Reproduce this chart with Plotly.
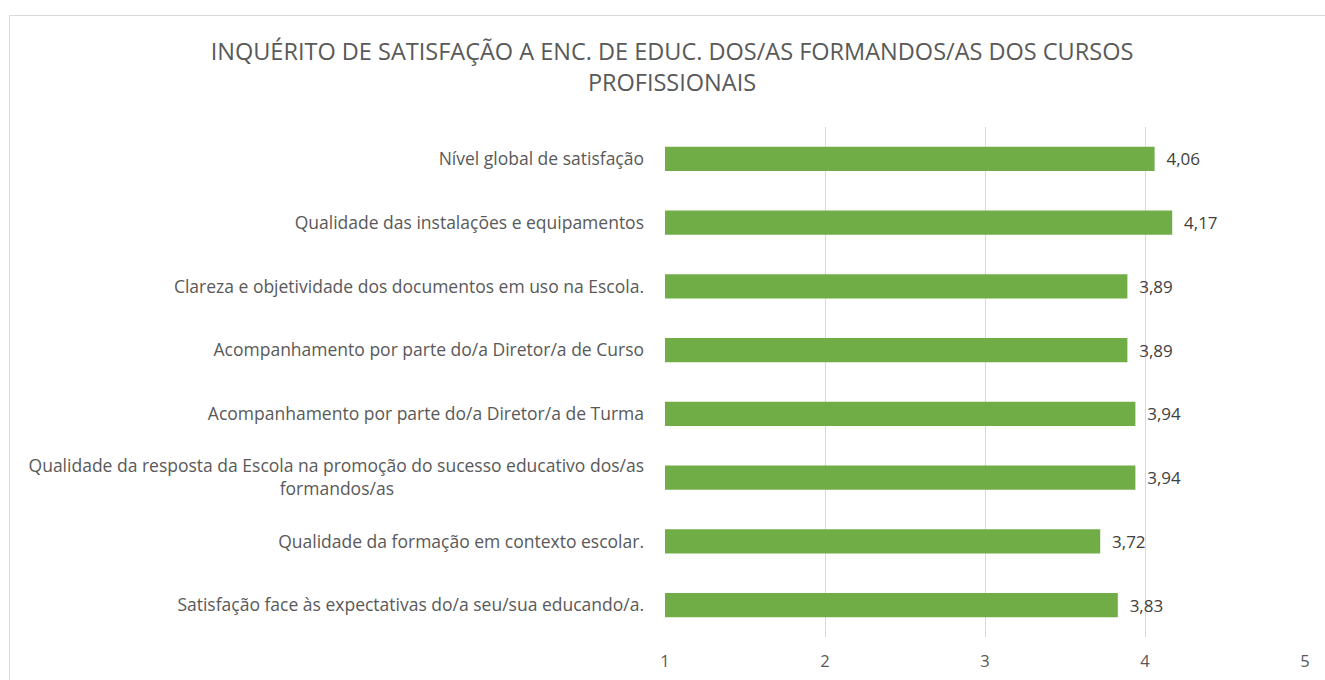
import plotly.graph_objects as go

categories = [
    "Nível global de satisfação",
    "Qualidade das instalações e equipamentos",
    "Clareza e objetividade dos documentos em uso na Escola.",
    "Acompanhamento por parte do/a Diretor/a de Curso",
    "Acompanhamento por parte do/a Diretor/a de Turma",
    "Qualidade da resposta da Escola na promoção do sucesso educativo dos/as<br>formandos/as" + "\u00a0" * 55,
    "Qualidade da formação em contexto escolar.",
    "Satisfação face às expectativas do/a seu/sua educando/a.",
]
values = [4.06, 4.17, 3.89, 3.89, 3.94, 3.94, 3.72, 3.83]
tick_vals = [1, 2, 3, 4, 5]

# body margin is removed in the page, so page px == figure px
W, H = 1325, 680
L, T = 665, 127
R = W - 1305
B = H - 637
pw, ph = W - L - R, H - T - B


def px_x(p):
    return (p - L) / pw


def px_y(p):
    return (H - B - p) / ph


border = dict(color="#D9D9D9", width=1)

fig = go.Figure(
    go.Bar(
        x=values,
        y=categories,
        orientation="h",
        marker=dict(color="#70AD47", line=dict(width=0)),
        text=values,
        texttemplate="\u00a0\u00a0%{x:.2f}",
        textposition="outside",
        textfont=dict(family="Open Sans", size=17, color="#404040"),
        cliponaxis=False,
        hoverinfo="skip",
    )
)

fig.update_layout(
    width=W,
    height=H,
    margin=dict(l=L, r=R, t=T, b=B, autoexpand=False),
    paper_bgcolor="white",
    plot_bgcolor="white",
    separators=",.",
    bargap=0.62,
    showlegend=False,
    font=dict(family="Open Sans", color="#595959"),
    title=dict(
        text="INQUÉRITO DE SATISFAÇÃO A ENC. DE EDUC. DOS/AS FORMANDOS/AS DOS CURSOS<br>PROFISSIONAIS",
        x=672 / W,
        xanchor="center",
        xref="container",
        y=1 - 60 / H,
        yanchor="middle",
        font=dict(family="Open Sans", size=23.5, color="#595959"),
    ),
    shapes=[
        dict(type="line", xref="paper", yref="paper",
             x0=px_x(9.5), x1=px_x(1340), y0=px_y(15.5), y1=px_y(15.5),
             line=border, layer="below"),
        dict(type="line", xref="paper", yref="paper",
             x0=px_x(9.5), x1=px_x(9.5), y0=px_y(15.5), y1=px_y(700),
             line=border, layer="below"),
    ],
)

fig.update_xaxes(
    range=[1, 5],
    tickvals=tick_vals,
    showgrid=True,
    gridcolor="#D9D9D9",
    gridwidth=1,
    showline=False,
    zeroline=False,
    ticks="",
    automargin=False,
    ticklabelstandoff=12,
    tickfont=dict(family="Open Sans", size=16.5, color="#595959"),
)

fig.update_yaxes(
    categoryorder="array",
    categoryarray=categories,
    autorange="reversed",
    showgrid=False,
    showline=False,
    zeroline=False,
    ticks="",
    automargin=False,
    ticklabelstandoff=20,
    tickfont=dict(family="Open Sans", size=17.5, color="#595959"),
)

fig.write_html(
    "out.html",
    config={"displayModeBar": False},
    post_script="document.body.style.margin='0';document.body.style.overflow='hidden';",
)
